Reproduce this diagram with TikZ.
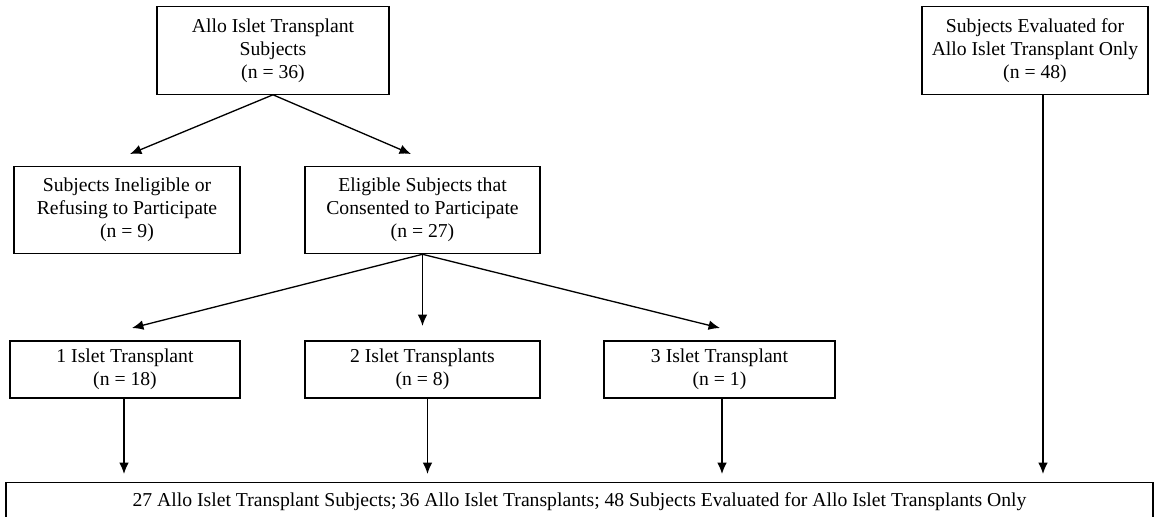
\documentclass[tikz,border=0pt]{standalone}
\usepackage{fontspec}
\setmainfont{Liberation Serif}
\usetikzlibrary{positioning,arrows.meta}

\begin{document}
\begin{tikzpicture}[-{Latex[length=6.5pt,width=5.5pt]}, line width=0.75pt,
    every node/.style={font=\fontsize{11.2}{13}\selectfont},
    tallbox/.style={rectangle, draw, -, line width=0.6pt, align=center,
      minimum height=1.75cm, inner sep=2pt},
    lowbox/.style={rectangle, draw, -, line width=0.6pt, align=center,
      minimum height=1.14cm, inner sep=2pt}
    ]
    \useasboundingbox (0,0) rectangle (23.1,-10.32);

    % top row
    \node[tallbox, minimum width=4.64cm] (allo) at (5.46,-1.01)
      {Allo Islet Transplant\\Subjects\\(n = 36)};
    \node[tallbox, minimum width=4.52cm] (evald) at (20.7,-1.01)
      {Subjects Evaluated for\\Allo Islet Transplant Only\\(n = 48)};

    % second row
    \node[tallbox, minimum width=4.52cm] (inelig) at (2.54,-4.2)
      {Subjects Ineligible or\\Refusing to Participate\\(n = 9)};
    \node[tallbox, minimum width=4.7cm] (elig) at (8.45,-4.2)
      {Eligible Subjects that\\Consented to Participate\\(n = 27)};

    % transplant counts
    \node[lowbox, minimum width=4.6cm] (one) at (2.5,-7.39)
      {1 Islet Transplant\\(n = 18)};
    \node[lowbox, minimum width=4.7cm] (two) at (8.45,-7.39)
      {2 Islet Transplants\\(n = 8)};
    \node[lowbox, minimum width=4.62cm] (three) at (14.39,-7.39)
      {3 Islet Transplant\\(n = 1)};

    % summary
    \node[rectangle, draw, -, line width=0.6pt, minimum width=22.94cm,
      anchor=north, text height=0.41cm, text depth=0.4cm, inner ysep=2pt]
      (total) at (11.59,-9.64)
      {27 Allo Islet Transplant Subjects;\,36 Allo Islet Transplants; 48 Subjects Evaluated for Allo Islet Transplants Only};

    \coordinate (tipIn) at (2.6,-3.08);
    \coordinate (tipEl) at (8.22,-3.08);
    \coordinate (tipOne) at (2.64,-6.56);
    \coordinate (tipTwo) at (8.45,-6.52);
    \coordinate (tipThree) at (14.4,-6.56);

    \draw (allo.south) -- (tipIn);
    \draw (allo.south) -- (tipEl);
    \draw (elig.south) -- (tipOne);
    \draw (elig.south) -- (tipTwo);
    \draw (elig.south) -- (tipThree);

    \draw[shorten >=1.6mm] ([xshift=-0.2mm]one.south) -- ([xshift=-0.2mm]one.south |- total.north);
    \draw[shorten >=1.6mm] ([xshift=1mm]two.south) -- ([xshift=1mm]two.south |- total.north);
    \draw[shorten >=1.6mm] ([xshift=0.5mm]three.south) -- ([xshift=0.5mm]three.south |- total.north);
    \draw[shorten >=1.6mm] ([xshift=1.6mm]evald.south) -- ([xshift=1.6mm]evald.south |- total.north);
\end{tikzpicture}
\end{document}
